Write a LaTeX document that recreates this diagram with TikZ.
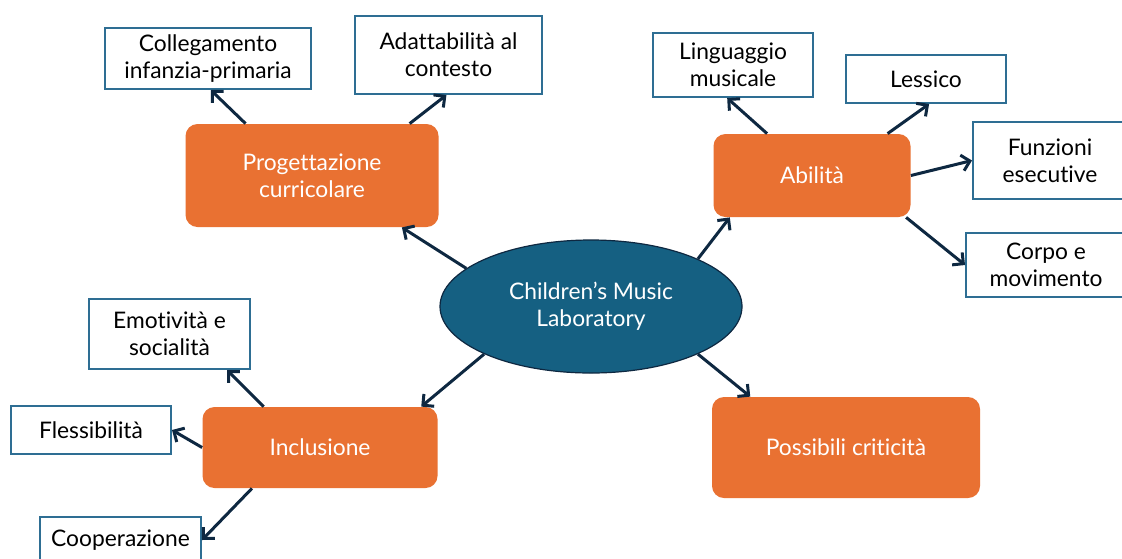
\documentclass[tikz,border=0pt]{standalone}
\usepackage{xcolor}
\usepackage{tikz}
\usepackage{fontspec}
\setmainfont{Lato}[Ligatures=NoCommon]
\usetikzlibrary{shapes.geometric, arrows.meta, positioning}
\definecolor{labblue}{HTML}{156082}
\definecolor{taskorange}{HTML}{E97132}
\definecolor{arrowblue}{HTML}{0E2841}
\definecolor{boxline}{HTML}{2E6E93}
\tikzstyle{arrow} = [line width=1.5pt, draw=arrowblue, -{Straight Barb[length=4pt, width=8pt]}]

\begin{document}
\begin{tikzpicture}[
    x=0.5pt, y=-0.5pt,
    font=\fontsize{11.4}{13.5}\selectfont,
    hub/.style={ellipse, draw=arrowblue, line width=0.6pt, fill=labblue, text=white, inner sep=0pt, align=center},
    topic/.style={rectangle, rounded corners=6pt, fill=taskorange, text=white, inner sep=0pt, align=center},
    leaf/.style={rectangle, draw=boxline, line width=1pt, fill=white, text=black, inner sep=0pt, align=center}
]
    \useasboundingbox (0,0) rectangle (1122,558);
    \clip (0,0) rectangle (1122,558);
    \fill[white] (0,0) rectangle (1122,558);

    \node[hub, minimum width=151pt, minimum height=66.5pt] (lab) at (591,306.5) {Children’s Music\\Laboratory};

    \node[topic, minimum width=126.5pt, minimum height=51.5pt] (prog) at (312,175.5) {Progettazione\\curricolare};
    \node[topic, minimum width=98.5pt, minimum height=41.5pt] (abil) at (812,175.5) {Abilità};
    \node[topic, minimum width=117.5pt, minimum height=40.5pt] (incl) at (320,447.5) {Inclusione};
    \node[topic, minimum width=134pt, minimum height=50.5pt] (poss) at (846,447.5) {Possibili criticità};

    \node[leaf, minimum width=103pt, minimum height=30.5pt] (coll) at (208,58.5) {Collegamento\\infanzia-primaria};
    \node[leaf, minimum width=93.5pt, minimum height=39pt] (adat) at (448.5,55) {Adattabilità al\\contesto};

    \node[leaf, minimum width=80pt, minimum height=32pt] (ling) at (733,65) {Linguaggio\\musicale};
    \node[leaf, minimum width=80pt, minimum height=24pt] (less) at (926,79) {Lessico};
    \node[leaf, minimum width=77pt, minimum height=38.5pt] (funz) at (1050,160.5) {Funzioni\\esecutive};
    \node[leaf, minimum width=80pt, minimum height=32pt] (corpo) at (1046,265) {Corpo e\\movimento};

    \node[leaf, minimum width=80.5pt, minimum height=35pt] (emot) at (169.5,334) {Emotività e\\socialità};
    \node[leaf, minimum width=80pt, minimum height=24pt] (fless) at (91,430) {Flessibilità};
    \node[leaf, minimum width=80.5pt, minimum height=23pt] (coop) at (120.5,540) {Cooperazione};

    % hub to the four topics
    \draw[arrow] (lab.163) -- (prog.-30);
    \draw[arrow] (lab.24) -- (abil.-153);
    \draw[arrow] (lab.-156) -- (incl.22);
    \draw[arrow] (lab.-24) -- (poss.152);

    % topics to their leaves
    \draw[arrow] (prog.142) -- (coll.-85);
    \draw[arrow] (prog.28) -- (adat.-93);

    \draw[arrow] (abil.137) -- (ling.-100);
    \draw[arrow] (abil.29) -- (less.-83);
    \draw[arrow] (abil.east) -- (funz.west);
    \draw[arrow] (abil.-24) -- (corpo.west);

    \draw[arrow] (incl.144) -- (emot.-32);
    \draw[arrow] (incl.west) -- (fless.east);
    \draw[arrow] (incl.-149) -- (coop.east);
\end{tikzpicture}
\end{document}
